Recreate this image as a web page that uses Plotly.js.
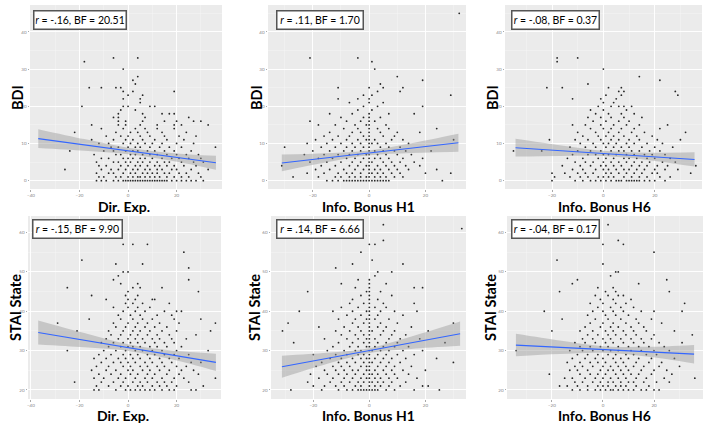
<!DOCTYPE html>
<html><head><meta charset="utf-8">
<script src="https://cdn.plot.ly/plotly-3.0.1.min.js"></script>
<style>html,body{margin:0;padding:0;background:#fff}#chart{width:708px;height:423px}</style>
</head><body><div id="chart"></div>
<script>
// ---- labels ----
const xTitles = ["Dir. Exp.", "Info. Bonus H1", "Info. Bonus H6", "Dir. Exp.", "Info. Bonus H1", "Info. Bonus H6"];
const yTitles = ["BDI", "BDI", "BDI", "STAI State", "STAI State", "STAI State"];
const rValues = ["-.16", ".11", "-.08", "-.15", ".14", "-.04"];
const bfValues = ["20.51", "1.70", "0.37", "9.90", "6.66", "0.17"];
const bdiTicks = [0, 10, 20, 30, 40];
const staiTicks = [20, 30, 40, 50, 60];
const dirTicks = [-40, -20, 0, 20];
const bonusTicks = [-20, 0, 20];

// ---- scatter data: rows of [score, [predictor values]] ----
const dirExpBDI = [
 [0,[-13,-11,-9,-6,-4,-2,-1,0,1,2,3,4,5,6,7,8,9,10,11,12,13,14,15,16,18,20,22,24,26,28,31]],
 [1,[-12,-10,-5,-3,0,2,4,5,7,9,11,13,16,19,22,25,30]],
 [2,[-13,-8,-6,-2,1,3,6,8,10,12,15,17,21,24,29]],
 [3,[-26,-11,-7,-4,-1,2,4,7,9,12,14,18,20,26,33]],
 [4,[-12,-9,-3,0,3,5,8,11,13,16,19,23,28]],
 [5,[-13,-6,-4,-1,1,4,6,9,12,15,17,22,27,31]],
 [6,[-11,-8,-2,0,2,5,7,10,14,18,21,25,30]],
 [7,[-14,-5,-3,1,3,6,9,12,16,20,24,29]],
 [8,[-24,-10,-6,-1,2,4,8,11,15,19,26]],
 [9,[-7,-4,0,3,5,9,13,17,22,36]],
 [10,[-12,-8,-2,1,4,7,10,14,20,27]],
 [11,[-15,-6,-1,2,6,11,16,23]],
 [12,[-9,-3,0,5,9,15,21,28]],
 [13,[-22,-5,1,4,8,14,24]],
 [14,[-11,-2,3,7,12,19]],
 [15,[-15,-4,-1,5,12,19,22,33]],
 [16,[-4,-1,6,15,20,27,30]],
 [17,[-6,-4,7,25]],
 [18,[-4,6,14,17,19]],
 [19,[-3,3]],
 [20,[-19,-2,0,9,11]],
 [21,[5]], [22,[-2,5]], [23,[0,6]], [24,[-2,2,19]], [25,[-16,-11,-5,-3]],
 [26,[3]], [27,[2]], [28,[4]], [30,[-2]], [32,[-18]], [33,[-6,4]]
];
const bonusH1BDI = [
 [0,[-15,-13,-11,-9,-8,-7,-6,-5,-4,-3,-2,-1,0,1,2,3,4,5,6,7,26]],
 [1,[-27,-18,-12,-10,-7,-5,-3,-1,0,2,4,6,9,12]],
 [2,[-22,-16,-11,-8,-6,-3,0,1,3,5,8,11,20,29]],
 [3,[-19,-14,-9,-5,-2,0,2,4,7,10,14,24]],
 [4,[-31,-17,-12,-7,-4,-1,0,3,6,9,13,18]],
 [5,[-21,-15,-10,-6,-3,0,1,5,8,11,16]],
 [6,[-18,-13,-8,-5,-2,0,2,4,7,12,19]],
 [7,[-23,-16,-11,-7,-4,-1,0,3,6,10,15]],
 [8,[-20,-14,-9,-6,-3,0,2,5,9,13,22]],
 [9,[-30,-17,-12,-8,-5,-2,0,4,7,11]],
 [10,[-22,-15,-10,-6,-3,0,1,3,6,14]],
 [11,[-19,-13,-8,-4,-1,0,2,8,12,30]],
 [12,[-16,-11,-7,-2,0,5,9]],
 [13,[-14,-6,-3,0,4,10,18]],
 [14,[-9,-4,0,3,7,24]],
 [15,[-18,-12,-5,-1,0,6]],
 [16,[-21,-8,-3,0,2]],
 [17,[-10,-2,0,4]],
 [18,[-14,-6,0,7,16]],
 [19,[-4,1]], [20,[-2,3,19]], [21,[-7,0,5]], [22,[-11,-4,0]], [23,[-2,1,29]],
 [24,[3,11]], [25,[-11,0,5,12]], [26,[4]], [27,[19]], [28,[10]], [30,[2]],
 [32,[1]], [33,[-21,-4]], [45,[32]]
];
const bonusH6BDI = [
 [0,[-20,-11,-8,-5,-3,-1,1,3,5,6,7,9,10,11,12,13,14,16,18,20,24]],
 [1,[-19,-13,-9,-6,-2,0,2,4,8,11,14,17,22,26]],
 [2,[-20,-15,-10,-7,-4,1,3,6,9,12,15,19,21,34]],
 [3,[-12,-8,-3,0,2,5,8,10,13,16,20,24,29]],
 [4,[-16,-9,-5,-1,1,4,7,11,14,17,21,25,36]],
 [5,[-11,-7,-4,0,3,6,9,12,15,18,23,28]],
 [6,[-14,-8,-2,1,4,8,10,13,17,20,26]],
 [7,[-12,-6,-3,0,2,5,9,12,16,19,24]],
 [8,[-35,-24,-10,-5,-1,3,6,8,11,14,18,22]],
 [9,[-13,-7,-3,1,4,7,10,15,20,27]],
 [10,[-9,-4,0,2,5,9,12,17,23]],
 [11,[-21,-11,-6,-1,3,6,10,14,21,30]],
 [12,[-8,-2,1,4,8,13,19]],
 [13,[-10,-3,2,6,11,16,32]],
 [14,[-5,0,3,7,12,22]],
 [15,[-12,-7,-1,4,9,14,25]],
 [16,[-4,1,6,10]],
 [17,[-6,-1,3,8,15]],
 [18,[-3,2,7,12]],
 [19,[-5,0,9]],
 [20,[-2,3,6,8,11]],
 [21,[0,4]], [22,[-12,-1,5]], [23,[1,7,29]], [24,[6,8,28]], [25,[-22,-16,2,7]],
 [26,[-6]], [27,[22]], [28,[14]], [30,[0]], [32,[-18]], [33,[-18,-10]]
];
const dirExpSTAI = [
 [20,[-14,-12,-5,-1,1,3,5,7,9,11,14,17,19,26,28]],
 [21,[-13,-8,-3,0,4,6,10,13,16,20,31]],
 [22,[-22,-11,-6,-2,2,5,8,12,15,18,25]],
 [23,[-14,-10,-4,-1,3,7,10,14,19,23,36]],
 [24,[-12,-7,-3,1,4,8,11,16,21,29]],
 [25,[-15,-9,-5,0,2,6,9,13,17,22,27]],
 [26,[-13,-8,-2,1,5,8,12,15,20,24]],
 [27,[-11,-6,-3,0,3,7,10,14,18,26,30]],
 [28,[-14,-9,-4,-1,2,5,9,13,17,21]],
 [29,[-12,-7,-2,1,4,8,11,15,19,25]],
 [30,[-25,-10,-5,-1,3,6,10,14,20,33]],
 [31,[-8,-3,0,2,5,9,12,16,22]],
 [32,[-11,-6,-2,1,4,7,11,15,19]],
 [33,[-9,-4,0,3,6,10,13,18,24]],
 [34,[-7,-3,1,4,8,12,17,28]],
 [35,[-21,-8,-2,2,5,9,14,20,34]],
 [36,[-5,-1,3,7,11,16]],
 [37,[-29,-6,0,4,8,13,21,36]],
 [38,[-16,-3,2,6,10,19,30]],
 [39,[-4,1,5,12,18]],
 [40,[-2,3,7,15,20,22]],
 [41,[-6,0,4,9]], [42,[-1,2,6,17]], [43,[-9,0,3,10,11]], [44,[-15,-1,4]],
 [45,[0,29]], [46,[-25,2,5,14]], [47,[-3,4]], [48,[-6,25]], [49,[-4]],
 [50,[-2,0]], [51,[25]], [52,[-5,6]], [53,[-19]], [55,[23]], [57,[-2,2,8]]
];
const bonusH1STAI = [
 [20,[-28,-17,-11,-8,-6,-4,-3,-2,-1,0,1,2,3,6,9,16,25]],
 [21,[-20,-16,-12,-9,-5,-3,0,2,4,7,11,19,21]],
 [22,[-22,-14,-10,-7,-4,-2,0,1,3,5,8,13]],
 [23,[-18,-13,-9,-6,-3,-1,0,2,4,7,10,17]],
 [24,[-21,-15,-11,-8,-5,-2,0,1,3,6,9,14]],
 [25,[-16,-12,-9,-6,-4,-1,0,2,5,8,12,20]],
 [26,[-19,-13,-10,-7,-3,-1,0,3,6,9,15]],
 [27,[-17,-11,-8,-5,-2,0,1,4,7,11,30]],
 [28,[-14,-10,-6,-3,-1,0,2,5,8,13,24]],
 [29,[-20,-12,-8,-4,-2,0,3,6,10,16]],
 [30,[-15,-9,-5,-3,0,1,4,7,12,19]],
 [31,[-13,-7,-4,-1,0,2,5,9,14]],
 [32,[-27,-11,-6,-2,0,3,6,10,27]],
 [33,[-16,-8,-4,-1,0,2,7,11,18]],
 [34,[-10,-5,-2,0,4,8,13]],
 [35,[-31,-12,-7,-3,0,1,5,9,21]],
 [36,[-18,-9,-4,0,3,6,15]],
 [37,[-29,-6,-2,0,4,10,30]],
 [38,[-11,-5,-1,0,2,7]],
 [39,[-8,-3,0,3,12]],
 [40,[-25,-13,-6,-1,0,4,9,17]],
 [41,[-10,-4,0,2,6]], [42,[-7,-2,0,5,16]], [43,[-6,0,3]], [44,[-3,0,8]],
 [45,[-22,-1,0,4]], [46,[-5,0,16,19]], [47,[-10,0,6]], [48,[-4,0]], [49,[2]],
 [50,[3,8]], [51,[-12]], [52,[-6,12]], [53,[1]], [55,[-3]], [57,[0,2]],
 [58,[5]], [61,[33]], [62,[5]]
];
const bonusH6STAI = [
 [20,[-12,-9,-6,-3,-1,1,3,4,6,8,10,12,15,17,20,22]],
 [21,[-17,-14,-10,-6,-2,0,2,5,7,9,13,18]],
 [22,[-11,-8,-4,-1,2,4,7,10,12,16,21,26]],
 [23,[-15,-12,-7,-3,0,3,6,9,13,17,24,36]],
 [24,[-21,-9,-5,-2,1,5,8,11,14,19,27]],
 [25,[-13,-10,-6,-1,2,4,7,10,15,20,25]],
 [26,[-11,-8,-4,0,3,6,9,12,16,22,30]],
 [27,[-14,-9,-5,-2,1,5,8,13,18,23]],
 [28,[-12,-7,-3,0,4,7,10,14,19,28]],
 [29,[-10,-6,-2,2,5,9,12,17,21]],
 [30,[-34,-13,-8,-4,0,3,6,11,15,20,26]],
 [31,[-9,-5,-1,2,6,10,14,18,24]],
 [32,[-11,-7,-3,1,4,8,12,16,22,31]],
 [33,[-8,-4,0,3,7,11,15,19]],
 [34,[-6,-2,2,5,9,13,20,35]],
 [35,[-20,-9,-4,1,4,8,12,17,28]],
 [36,[-7,-1,3,6,11,16]],
 [37,[-5,0,4,9,14,23]],
 [38,[-16,-3,2,7,13,19]],
 [39,[-6,1,5,10]],
 [40,[-23,-4,0,4,8,15,20,31]],
 [41,[-2,3,7,12]], [42,[-5,0,5,9,32]], [43,[-1,4,11]], [44,[-3,2,6,8]],
 [45,[-17,1,5,26]], [46,[-2,4]], [47,[-12,14]], [48,[-10,25]], [49,[3]],
 [50,[5,6]], [52,[0]], [53,[-18]], [55,[20]], [57,[0,8]], [58,[6]], [62,[2]]
];
const scatterRows = [dirExpBDI, bonusH1BDI, bonusH6BDI, dirExpSTAI, bonusH1STAI, bonusH6STAI];

// ---- regression fits ----
const fitX = [
 [-37, -18, 0, 18, 36.2],
 [-31, -15, 0, 15, 31.7],
 [-34.2, -17, 0, 17, 35.5],
 [-37, -18, 0, 18, 36.2],
 [-31.2, -15, 0, 15, 32.4],
 [-34.1, -17, 0, 17, 35.7]
];
const fitLine = [
 [11.3, 9.6, 8.0, 6.4, 4.8],
 [4.75, 6.14, 7.45, 8.75, 10.2],
 [8.86, 8.08, 7.31, 6.54, 5.7],
 [34.6, 32.63, 30.76, 28.89, 27.0],
 [25.9, 28.04, 30.02, 32.0, 34.3],
 [31.4, 30.84, 30.28, 29.72, 29.1]
];
const fitUpper = [
 [13.85, 11.17, 8.87, 7.45, 6.67],
 [7.0, 7.34, 8.1, 10.07, 12.63],
 [11.26, 9.53, 8.02, 7.5, 7.61],
 [37.65, 34.44, 31.62, 30.01, 29.21],
 [28.7, 29.44, 30.62, 33.57, 37.38],
 [34.25, 32.55, 31.13, 30.95, 31.45]
];
const fitLower = [
 [8.75, 8.03, 7.13, 5.35, 2.93],
 [2.5, 4.94, 6.8, 7.43, 7.77],
 [6.46, 6.63, 6.6, 5.58, 3.79],
 [31.55, 30.82, 29.9, 27.77, 24.79],
 [23.1, 26.64, 29.42, 30.43, 31.22],
 [28.55, 29.13, 29.43, 28.49, 26.75]
];

// ---- layout geometry (pixels in 708x423 page) ----
const W = 708, H = 423;
const panelPx = [
 [30, 222, 5, 189], [268, 466, 5, 189], [505, 702, 5, 189],
 [28, 221, 216, 399], [271, 466, 216, 399], [507, 703, 216, 399]
];
const xRanges = [[-40.4, 38.7], [-35.9, 34.4], [-38.3, 38.4], [-41.2, 38.3], [-35.1, 34.5], [-37.6, 39.2]];
const yRangeBDI = [-2.25, 47.25];
const yRangeSTAI = [17.7, 64.2];
const boxPx = [[33, 10, 94], [276, 10, 88], [511, 10, 89], [32, 219, 91], [276, 219, 88], [511, 219, 89]];
const yTitlePx = [[17, 98], [256, 98], [492, 98], [15, 308], [254, 308], [490, 308]];
const xTitleY = [206.5, 206.5, 206.5, 415, 415, 415];
const xTitleX = [124, 368, 604, 123, 368, 604];

const traces = [];
const layout = {
  width: W, height: H, margin: {l: 0, r: 0, t: 0, b: 0},
  paper_bgcolor: '#ffffff', plot_bgcolor: '#EBEBEB', showlegend: false,
  font: {family: 'Lato, "Liberation Sans", sans-serif', color: '#000'},
  annotations: []
};

for (let i = 0; i < 6; i++) {
  const s = i === 0 ? '' : String(i + 1);
  const xa = 'x' + s, ya = 'y' + s;
  const px = [], py = [];
  scatterRows[i].forEach(r => r[1].forEach(v => { px.push(v); py.push(r[0]); }));
  traces.push({type: 'scatter', mode: 'markers', x: px, y: py, xaxis: xa, yaxis: ya,
    marker: {size: 1.8, color: 'rgba(15,15,15,0.9)'}, hoverinfo: 'skip', cliponaxis: true});
  traces.push({type: 'scatter', mode: 'lines', x: fitX[i], y: fitLower[i], xaxis: xa, yaxis: ya,
    line: {width: 0, shape: 'spline', smoothing: 1}, hoverinfo: 'skip'});
  traces.push({type: 'scatter', mode: 'lines', x: fitX[i], y: fitUpper[i], xaxis: xa, yaxis: ya,
    fill: 'tonexty', fillcolor: 'rgba(153,153,153,0.45)',
    line: {width: 0, shape: 'spline', smoothing: 1}, hoverinfo: 'skip'});
  traces.push({type: 'scatter', mode: 'lines', x: fitX[i], y: fitLine[i], xaxis: xa, yaxis: ya,
    line: {width: 1.1, color: '#3366FF'}, hoverinfo: 'skip'});

  const p = panelPx[i];
  const isBDI = i < 3;
  const isDir = (i % 3) === 0;
  layout['xaxis' + s] = {
    domain: [p[0] / W, p[1] / W], range: xRanges[i], anchor: ya,
    tickmode: 'array', tickvals: isDir ? dirTicks : bonusTicks,
    showgrid: true, gridcolor: '#FFFFFF', gridwidth: 0.9,
    minor: {tickmode: 'linear', tick0: 0, dtick: 10, showgrid: true, gridcolor: '#F6F6F6', gridwidth: 0.5},
    zeroline: false, showline: false, ticks: 'outside', ticklen: 1.5, tickcolor: '#aaa',
    tickfont: {size: 4.5, color: '#888'}, fixedrange: true
  };
  layout['yaxis' + s] = {
    domain: [1 - p[3] / H, 1 - p[2] / H], range: isBDI ? yRangeBDI : yRangeSTAI, anchor: xa,
    tickmode: 'array', tickvals: isBDI ? bdiTicks : staiTicks,
    showgrid: true, gridcolor: '#FFFFFF', gridwidth: 0.9,
    minor: {tickmode: 'linear', tick0: 0, dtick: 5, showgrid: true, gridcolor: '#F6F6F6', gridwidth: 0.5},
    zeroline: false, showline: false, ticks: 'outside', ticklen: 1.5, tickcolor: '#aaa',
    tickfont: {size: 4.5, color: '#888'}, fixedrange: true
  };

  const b = boxPx[i];
  layout.annotations.push({
    xref: 'paper', yref: 'paper', x: b[0] / W, y: 1 - b[1] / H, xanchor: 'left', yanchor: 'top',
    text: '<i>r</i> = ' + rValues[i] + ', BF = ' + bfValues[i], showarrow: false, align: 'center',
    width: b[2] - 5, height: 15, bgcolor: '#ffffff', bordercolor: '#555555', borderwidth: 1.5, borderpad: 1,
    font: {size: 10.5, color: '#000', family: 'Lato, sans-serif'}
  });
  const t = yTitlePx[i];
  layout.annotations.push({
    xref: 'paper', yref: 'paper', x: t[0] / W, y: 1 - t[1] / H, xanchor: 'center', yanchor: 'middle',
    text: '<b>' + yTitles[i] + '</b>', textangle: -90, showarrow: false,
    font: {size: 14.5, color: '#000', family: 'Lato, sans-serif'}
  });
  layout.annotations.push({
    xref: 'paper', yref: 'paper', x: xTitleX[i] / W, y: 1 - xTitleY[i] / H, xanchor: 'center', yanchor: 'middle',
    text: '<b>' + xTitles[i] + '</b>', showarrow: false,
    font: {size: 14, color: '#000', family: 'Lato, sans-serif'}
  });
}

Plotly.newPlot('chart', traces, layout, {staticPlot: true, displayModeBar: false});
</script>
</body></html>
